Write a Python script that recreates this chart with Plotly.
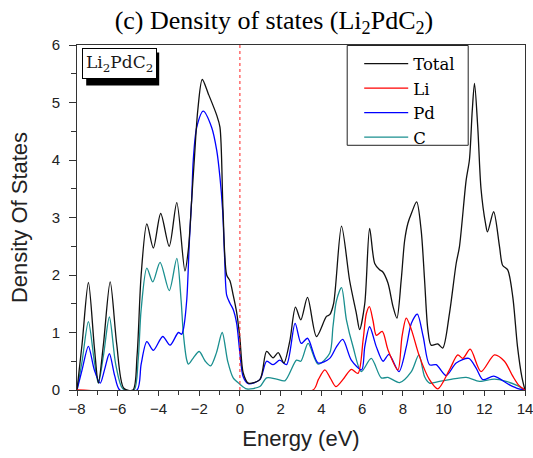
import plotly.graph_objects as go

# ---------------- data ----------------
total_e = [-8.0, -7.75, -7.44, -7.15, -6.95, -6.7, -6.37, -6.05, -5.7, -5.25, -5.05, -4.85, -4.57, -4.25,
           -3.89, -3.47, -3.10, -2.70, -2.53, -2.37, -2.24, -2.07, -1.85, -1.55, -1.14, -0.98, -0.83, -0.65,
           -0.49, -0.33, -0.16, 0.0, 0.16, 0.41, 0.98, 1.31, 1.63, 1.88, 2.16, 2.45, 2.73, 2.99, 3.32, 3.76,
           4.25, 4.41, 4.6, 4.99, 5.39, 5.72, 5.88, 6.13, 6.37, 6.62, 6.86, 7.0, 7.27, 7.52, 7.71, 7.92, 8.09,
           8.25, 8.42, 8.68, 8.9, 9.07, 9.23, 9.39, 9.72, 9.96, 10.29, 10.62, 10.78, 11.11, 11.27, 11.41, 11.52,
           11.68, 11.84, 12.06, 12.16, 12.46, 12.75, 12.9, 13.15, 13.4, 13.63, 13.85, 14.0]
total_d = [0.0, 0.8, 1.87, 0.75, 0.125, 0.8, 1.88, 0.8, 0.03, 0.0, 0.6, 2.0, 2.89, 2.47,
           3.07, 2.5, 3.26, 2.07, 2.45, 3.3, 4.0, 4.86, 5.40, 5.15, 4.78, 4.57, 3.13, 2.0,
           1.9, 1.65, 1.35, 0.9, 0.3, 0.12, 0.18, 0.67, 0.56, 0.65, 0.47, 0.85, 1.44, 1.22, 1.61, 0.93,
           1.28, 1.31, 1.5, 2.85, 1.9, 1.33, 1.05, 1.5, 2.81, 2.2, 2.09, 2.06, 1.86, 1.45, 1.25, 1.91, 2.6,
           2.9, 3.07, 3.27, 2.78, 1.9, 1.05, 0.78, 0.8, 0.73, 1.33, 2.2, 2.49, 3.65, 4.0, 4.86, 5.33,
           4.57, 3.5, 2.9, 2.75, 3.1, 2.49, 2.17, 2.09, 1.62, 0.76, 0.22, 0.0]

li_e = [-8.0, 3.59, 3.85, 4.17, 4.45, 4.71, 5.1, 5.47, 5.8, 6.05, 6.21, 6.36, 6.54, 6.7, 6.99, 7.27, 7.76,
        7.96, 8.17, 8.42, 8.82, 9.31, 9.72, 10.29, 10.7, 10.95, 11.31, 11.84, 12.5, 12.99, 13.4, 13.7, 14.0]
li_d = [0.0, 0.0, 0.18, 0.35, 0.2, 0.06, 0.2, 0.36, 0.29, 0.87, 1.33, 1.45, 1.2, 0.95, 1.02, 0.7, 0.35,
        0.93, 1.25, 1.05, 0.58, 0.18, 0.02, 0.35, 0.61, 0.55, 0.71, 0.32, 0.61, 0.5, 0.24, 0.08, 0.0]

pd_e = [-8.0, -7.75, -7.44, -7.15, -6.86, -6.65, -6.41, -6.15, -5.9, -5.05, -4.85, -4.57, -4.25, -3.79,
        -3.43, -3.02, -2.86, -2.78, -2.61, -2.48, -2.37, -2.29, -2.12, -1.8, -1.39, -1.14, -0.98, -0.85,
        -0.75, -0.65, -0.49, -0.33, -0.16, 0.0, 0.16, 0.41, 0.98, 1.31, 1.63, 1.96, 2.29, 2.71, 3.01, 3.32,
        3.84, 4.41, 4.74, 5.05, 5.47, 5.98, 6.13, 6.37, 6.7, 7.03, 7.32, 7.81, 8.17, 8.42, 8.71, 9.0, 9.31,
        9.64, 10.13, 10.62, 11.24, 11.6, 11.93, 12.47, 13.24, 13.7, 14.0]
pd_d = [0.0, 0.35, 0.76, 0.35, 0.12, 0.35, 0.63, 0.25, 0.0, 0.0, 0.45, 0.84, 0.69, 0.93,
        0.78, 1.0, 0.97, 1.05, 1.57, 2.6, 3.3, 4.0, 4.57, 4.85, 4.57, 4.17, 3.7, 3.13,
        2.3, 1.65, 1.51, 1.4, 1.16, 0.64, 0.23, 0.11, 0.18, 0.5, 0.44, 0.52, 0.44, 1.16, 0.81, 0.9,
        0.47, 0.55, 0.75, 0.88, 0.52, 0.35, 0.75, 1.1, 0.75, 0.5, 0.62, 0.32, 0.75, 1.16, 1.32, 0.93, 0.44,
        0.44, 0.25, 0.47, 0.55, 0.38, 0.18, 0.24, 0.09, 0.02, 0.0]

c_e = [-8.0, -7.75, -7.44, -7.15, -6.95, -6.7, -6.41, -6.1, -5.75, -5.2, -5.0, -4.85, -4.57, -4.28,
       -3.92, -3.47, -3.10, -2.89, -2.78, -2.61, -2.53, -2.3, -2.0, -1.7, -1.44, -1.15, -0.87, -0.6,
       -0.33, 0.0, 0.33, 0.98, 1.31, 1.8, 2.21, 2.78, 2.99, 3.35, 3.84, 4.41, 4.57, 4.74, 4.99, 5.23,
       5.55, 5.96, 6.45, 6.94, 7.27, 7.84, 8.42, 8.79, 9.07, 9.31, 9.8, 10.29, 11.11, 11.76, 12.5, 13.07,
       13.6, 14.0]
c_d = [0.0, 0.5, 1.19, 0.5, 0.12, 0.6, 1.27, 0.45, 0.02, 0.0, 0.5, 1.4, 2.12, 1.88,
       2.22, 1.73, 2.29, 1.57, 0.99, 0.52, 0.45, 0.55, 0.67, 0.5, 0.42, 0.65, 1.0, 0.5,
       0.21, 0.1, 0.02, 0.06, 0.21, 0.19, 0.16, 0.52, 0.5, 0.81, 0.45, 0.64, 1.1, 1.55, 1.78, 1.22,
       0.76, 0.32, 0.55, 0.21, 0.22, 0.13, 0.32, 0.61, 0.23, 0.12, 0.15, 0.18, 0.22, 0.15, 0.19, 0.15,
       0.08, 0.0]

x_ticks = [-8, -6, -4, -2, 0, 2, 4, 6, 8, 10, 12, 14]
y_ticks = [0, 1, 2, 3, 4, 5, 6]
fermi_level = 0.0

# ---------------- figure ----------------
fig = go.Figure()
common = dict(mode="lines", line_shape="spline")
fig.add_trace(go.Scatter(x=c_e, y=c_d, name="C", legendrank=4,
                         line=dict(color="#1a8f8f", width=1.3, smoothing=0.8), **common))
fig.add_trace(go.Scatter(x=pd_e, y=pd_d, name="Pd", legendrank=3,
                         line=dict(color="#0000ff", width=1.3, smoothing=0.8), **common))
fig.add_trace(go.Scatter(x=total_e, y=total_d, name="Total", legendrank=1,
                         line=dict(color="#111111", width=1.3, smoothing=0.8), **common))
fig.add_trace(go.Scatter(x=li_e, y=li_d, name="Li", legendrank=2,
                         line=dict(color="#ff0000", width=1.3, smoothing=0.8), **common))

fig.add_shape(type="line", x0=fermi_level, x1=fermi_level, y0=0, y1=6, xref="x", yref="y",
              line=dict(color="#ff2020", width=1, dash="dot"))

L, R, T, B = 76.8, 524.8, 44.5, 390.2
W, H = R - L, B - T
def px(x):
    return (x - L) / W
def py(y):
    return (B - y) / H

# legend frame
fig.add_shape(type="rect", xref="paper", yref="paper", x0=px(347), x1=px(468), y0=py(145), y1=py(45),
              fillcolor="white", line=dict(color="#222", width=1), layer="below")

# label box with shadow
fig.add_shape(type="rect", xref="paper", yref="paper", x0=px(86), x1=px(159), y0=py(85), y1=py(52),
              fillcolor="black", line=dict(width=0), layer="above")
fig.add_annotation(xref="paper", yref="paper", x=px(82), y=py(48), xanchor="left", yanchor="top",
                   text="Li<sub>2</sub>PdC<sub>2</sub>", showarrow=False,
                   font=dict(family="DejaVu Serif", size=17, color="#1a1a1a"),
                   bgcolor="white", bordercolor="black", borderwidth=1, borderpad=3)

fig.update_layout(
    width=533, height=458,
    margin=dict(l=L, r=533 - R, t=T, b=458 - B, autoexpand=False),
    paper_bgcolor="white", plot_bgcolor="white",
    title=dict(text="(c) Density of states (Li<sub>2</sub>PdC<sub>2</sub>)", xref="container", yref="container",
               x=0.514, y=0.957, xanchor="center", yanchor="middle",
               font=dict(family="Liberation Serif", size=26, color="black")),
    legend=dict(x=px(359), y=py(46), xanchor="left", yanchor="top",
                bgcolor="rgba(0,0,0,0)", borderwidth=0,
                font=dict(family="DejaVu Serif", size=16.5, color="black"),
                tracegroupgap=0, itemwidth=44),
    showlegend=True,
)
fig.update_xaxes(range=[-8, 14], tickvals=x_ticks, ticks="outside", ticklen=5, tickwidth=1,
                 tickcolor="#333", showline=True, linecolor="#333", linewidth=1, mirror=True,
                 showgrid=False, zeroline=False, ticklabeloverflow="allow", ticklabelstandoff=0,
                 automargin=False,
                 minor=dict(dtick=1, ticks="outside", ticklen=4, tickcolor="#333"),
                 tickfont=dict(family="Liberation Sans", size=15, color="#222"),
                 title=dict(text="Energy (eV)", standoff=14,
                            font=dict(family="Liberation Sans", size=22, color="#222")))
fig.update_yaxes(range=[0, 6], tickvals=y_ticks, ticks="outside", ticklen=7, tickwidth=1,
                 tickcolor="#333", showline=True, linecolor="#333", linewidth=1, mirror=True,
                 showgrid=False, zeroline=False, ticklabelstandoff=6, automargin=False,
                 minor=dict(dtick=0.5, ticks="outside", ticklen=5, tickcolor="#333"),
                 tickfont=dict(family="Liberation Sans", size=15, color="#222"),
                 title=dict(text="Density Of States", standoff=17,
                            font=dict(family="Liberation Sans", size=22, color="#222")))

fig.write_html("out.html")
